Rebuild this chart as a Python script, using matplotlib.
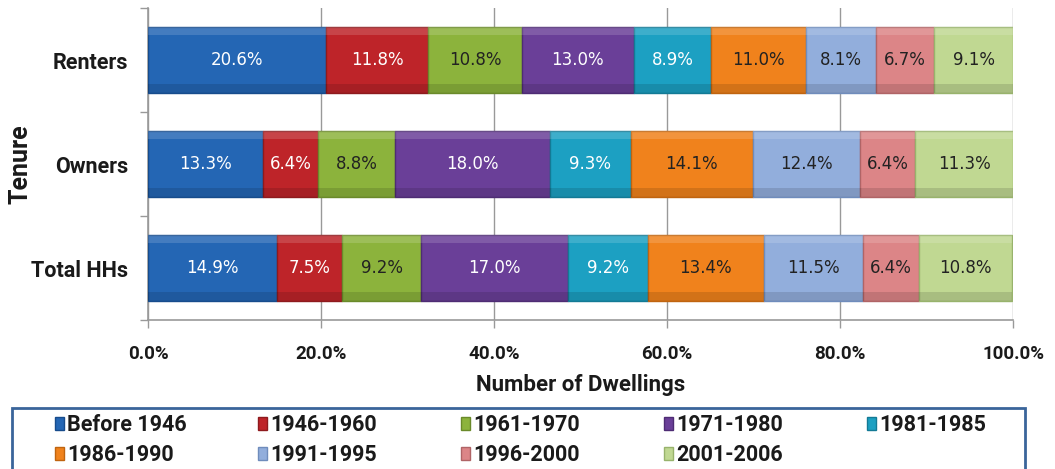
import matplotlib.pyplot as plt
from matplotlib.patches import Rectangle
import numpy as np

# dwellings by period of construction, share by tenure
TENURES = ['Renters', 'Owners', 'Total HHs']
PERIODS = ['Before 1946', '1946-1960', '1961-1970', '1971-1980', '1981-1985',
           '1986-1990', '1991-1995', '1996-2000', '2001-2006']
renters = [20.6, 11.8, 10.8, 13.0, 8.9, 11.0, 8.1, 6.7, 9.1]
owners = [13.3, 6.4, 8.8, 18.0, 9.3, 14.1, 12.4, 6.4, 11.3]
total_hhs = [14.9, 7.5, 9.2, 17.0, 9.2, 13.4, 11.5, 6.4, 10.8]
XTICKS = [0, 20, 40, 60, 80, 100]

COLOURS = ['#2466B4', '#BE2429', '#8CB33C', '#6A3F98', '#1CA0C2',
           '#F0821C', '#92AEDC', '#DC8587', '#C0D892']
EDGES = ['#174C8C', '#8E1A1E', '#6A8A2A', '#4E2C74', '#137A95',
         '#C0640F', '#6F8CBC', '#B06466', '#98B36C']
TEXT_COL = ['white', 'white', '#222222', 'white', 'white',
            '#222222', '#222222', '#222222', '#222222']

BOLD = ['Roboto', 'DejaVu Sans']
DARK = '#1a1a1a'

fig = plt.figure(figsize=(10.55, 4.69), dpi=100)
ax = fig.add_axes([148/1055, 1-320/469, 865/1055, 312/469])

data = np.array([renters, owners, total_hhs])
y = np.arange(len(TENURES))
h = 0.63
left = np.zeros(len(TENURES))
for i, p in enumerate(PERIODS):
    vals = data[:, i]
    ax.barh(y, vals, left=left, height=h, color=COLOURS[i], edgecolor=EDGES[i],
            linewidth=1.0, zorder=3, label=p)
    # bevel: light top strip, dark bottom strip
    ax.barh(y - h/2 + 0.035, vals, left=left, height=0.07, color='white',
            alpha=0.15, linewidth=0, zorder=4)
    ax.barh(y + h/2 - 0.04, vals, left=left, height=0.08, color='black',
            alpha=0.12, linewidth=0, zorder=4)
    for j in range(len(TENURES)):
        ax.text(left[j] + vals[j]/2, y[j], '%.1f%%' % vals[j], ha='center',
                va='center', color=TEXT_COL[i], fontsize=12, zorder=5)
    left += vals

ax.set_xlim(0, 100)
ax.set_ylim(2.5, -0.5)
ax.set_xticks(XTICKS)
ax.set_xticklabels(['%.1f%%' % t for t in XTICKS], fontweight='bold',
                   fontsize=13.5, family=BOLD, color=DARK)
ax.set_yticks(y)
ax.set_yticklabels(TENURES, fontweight='bold', fontsize=15.5, family=BOLD,
                   color=DARK)
ax.set_yticks([-0.5, 0.5, 1.5, 2.5], minor=True)
ax.tick_params(axis='y', which='major', length=0, pad=14)
ax.tick_params(axis='y', which='minor', length=6, color='#999999', width=1)
ax.tick_params(axis='x', length=6, color='#999999', width=1, pad=12)
ax.grid(axis='x', color='#999999', linewidth=1, zorder=0)
for s in ['top', 'right']:
    ax.spines[s].set_visible(False)
for s in ['left', 'bottom']:
    ax.spines[s].set_color('#999999')
    ax.spines[s].set_linewidth(1.2)

ax.set_xlabel('Number of Dwellings', fontweight='bold', fontsize=16,
              family=BOLD, color=DARK, labelpad=8)
ax.set_ylabel('Tenure', fontweight='bold', fontsize=18, family=BOLD,
              color=DARK)
ax.yaxis.set_label_coords(-116/865, 0.5)

# legend frame runs off the bottom of the image
fig.patches.append(Rectangle((12/1055, -0.05), 1013/1055, 1-408/469+0.05,
                             transform=fig.transFigure, fill=False,
                             edgecolor='#3A659A', linewidth=2))
handles, labels = ax.get_legend_handles_labels()
# one small legend per column so the columns sit on an even grid
for c in range(5):
    idx = [k for k in (c, c + 5) if k < len(PERIODS)]
    leg = fig.legend([handles[k] for k in idx], [labels[k] for k in idx],
                     loc='upper left',
                     bbox_to_anchor=((55 + 203*c)/1055, 1-414/469),
                     frameon=False, borderpad=0, borderaxespad=0,
                     handlelength=0.4, handleheight=0.55, handletextpad=0.15,
                     labelspacing=0.38, labelcolor=DARK,
                     prop={'family': BOLD, 'weight': 'bold', 'size': 15.5})

fig.savefig('out.png', dpi=100)
